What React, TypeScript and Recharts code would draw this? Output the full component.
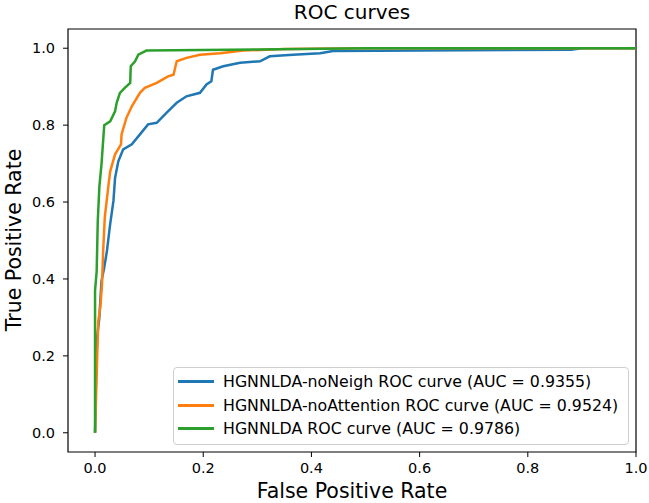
import { LineChart, Line, XAxis, YAxis, ReferenceArea, Legend } from 'recharts'

const noNeighFpr = [0, 0.002, 0.004, 0.008, 0.01, 0.012, 0.017, 0.022, 0.028, 0.034, 0.037, 0.043, 0.052, 0.068, 0.083, 0.098, 0.114, 0.132, 0.151, 0.169, 0.194, 0.206, 0.215, 0.218, 0.237, 0.268, 0.305, 0.323, 0.366, 0.416, 0.44, 0.6, 0.88, 0.9, 1]
const noNeighTpr = [0, 0.18, 0.25, 0.3, 0.35, 0.395, 0.43, 0.473, 0.543, 0.603, 0.663, 0.706, 0.737, 0.75, 0.776, 0.802, 0.806, 0.832, 0.858, 0.875, 0.884, 0.906, 0.914, 0.944, 0.953, 0.962, 0.966, 0.979, 0.983, 0.987, 0.993, 0.994, 0.996, 1, 1]

const noAttnFpr = [0, 0.004, 0.006, 0.01, 0.013, 0.015, 0.018, 0.025, 0.028, 0.037, 0.048, 0.049, 0.058, 0.068, 0.083, 0.092, 0.114, 0.135, 0.145, 0.151, 0.169, 0.194, 0.231, 0.274, 0.35, 0.5, 1]
const noAttnTpr = [0, 0.2, 0.29, 0.33, 0.39, 0.473, 0.56, 0.646, 0.68, 0.724, 0.75, 0.776, 0.819, 0.849, 0.884, 0.897, 0.91, 0.927, 0.931, 0.966, 0.975, 0.983, 0.987, 0.994, 0.998, 1, 1]

const fullFpr = [0, 0, 0.003, 0.005, 0.008, 0.012, 0.015, 0.017, 0.028, 0.037, 0.04, 0.046, 0.055, 0.065, 0.066, 0.074, 0.08, 0.095, 0.3, 0.5, 1]
const fullTpr = [0, 0.37, 0.42, 0.55, 0.64, 0.7, 0.76, 0.8, 0.81, 0.836, 0.858, 0.884, 0.897, 0.91, 0.953, 0.966, 0.983, 0.994, 0.997, 1, 1]

const seriesNames = [
  'HGNNLDA-noNeigh ROC curve (AUC = 0.9355)',
  'HGNNLDA-noAttention ROC curve (AUC = 0.9524)',
  'HGNNLDA ROC curve (AUC = 0.9786)',
]
const seriesColors = ['#1f77b4', '#ff7f0e', '#2ca02c']
const ticks = [0, 0.2, 0.4, 0.6, 0.8, 1.0]

const toPoints = (xs: number[], ys: number[]) => xs.map((x, i) => ({ x, y: ys[i] }))

const series = [
  toPoints(noNeighFpr, noNeighTpr),
  toPoints(noAttnFpr, noAttnTpr),
  toPoints(fullFpr, fullTpr),
]

const FONT = '"DejaVu Sans", sans-serif'
const tickStyle = { fill: '#000', fontSize: 14.5, fontFamily: FONT }

// eslint-disable-next-line @typescript-eslint/no-explicit-any
function LegendBox(_props: any) {
  return (
    <div
      style={{
        width: 454,
        height: 74,
        border: '1px solid #cfcfcf',
        borderRadius: 4,
        background: 'rgba(255,255,255,0.85)',
        fontFamily: FONT,
        fontSize: 15.8,
        color: '#000',
        paddingTop: 2,
        boxSizing: 'content-box',
      }}
    >
      {seriesNames.map((name, i) => (
        <div key={name} style={{ display: 'flex', alignItems: 'center', height: 23.5, whiteSpace: 'nowrap' }}>
          <span style={{ display: 'inline-block', width: 36, height: 3, background: seriesColors[i], marginLeft: 4, marginRight: 9 }} />
          <span>{name}</span>
        </div>
      ))}
    </div>
  )
}

export default function App() {
  return (
    <div style={{ position: 'absolute', left: 0, top: 0, width: 649, height: 503, background: '#fff' }}>
      <LineChart width={649} height={503} margin={{ top: 29, right: 13, bottom: 0, left: 0 }}>
        <XAxis
          dataKey="x"
          type="number"
          domain={[-0.05, 1.0]}
          ticks={ticks}
          tickFormatter={(t: number) => t.toFixed(1)}
          allowDataOverflow
          height={51}
          tick={tickStyle}
          tickSize={5}
          tickMargin={6}
          axisLine={false}
          tickLine={{ stroke: '#000' }}
        />
        <YAxis
          dataKey="y"
          type="number"
          domain={[-0.05, 1.05]}
          ticks={ticks}
          tickFormatter={(t: number) => t.toFixed(1)}
          allowDataOverflow
          width={68}
          tick={tickStyle}
          tickSize={5}
          tickMargin={8}
          axisLine={false}
          tickLine={{ stroke: '#000' }}
        />
        <ReferenceArea x1={-0.05} x2={1.0} y1={-0.05} y2={1.05} fill="none" stroke="#000" strokeWidth={1.2} />
        {series.map((pts, i) => (
          <Line
            key={seriesNames[i]}
            data={pts}
            dataKey="y"
            name={seriesNames[i]}
            type="linear"
            stroke={seriesColors[i]}
            strokeWidth={2.5}
            dot={false}
            isAnimationActive={false}
          />
        ))}
        <Legend
          layout="vertical"
          align="center"
          verticalAlign="middle"
          content={<LegendBox />}
          wrapperStyle={{ left: 173, top: 367, width: 456 }}
        />
      </LineChart>
      <svg width={649} height={503} style={{ position: 'absolute', left: 0, top: 0, pointerEvents: 'none' }}>
        <text x={352} y={19} textAnchor="middle" fontFamily={FONT} fontSize={20} fill="#000">ROC curves</text>
        <text x={352} y={497.5} textAnchor="middle" fontFamily={FONT} fontSize={20.5} fill="#000">False Positive Rate</text>
        <text transform="translate(21,240) rotate(-90)" textAnchor="middle" fontFamily={FONT} fontSize={20.5} fill="#000">True Positive Rate</text>
      </svg>
    </div>
  )
}
